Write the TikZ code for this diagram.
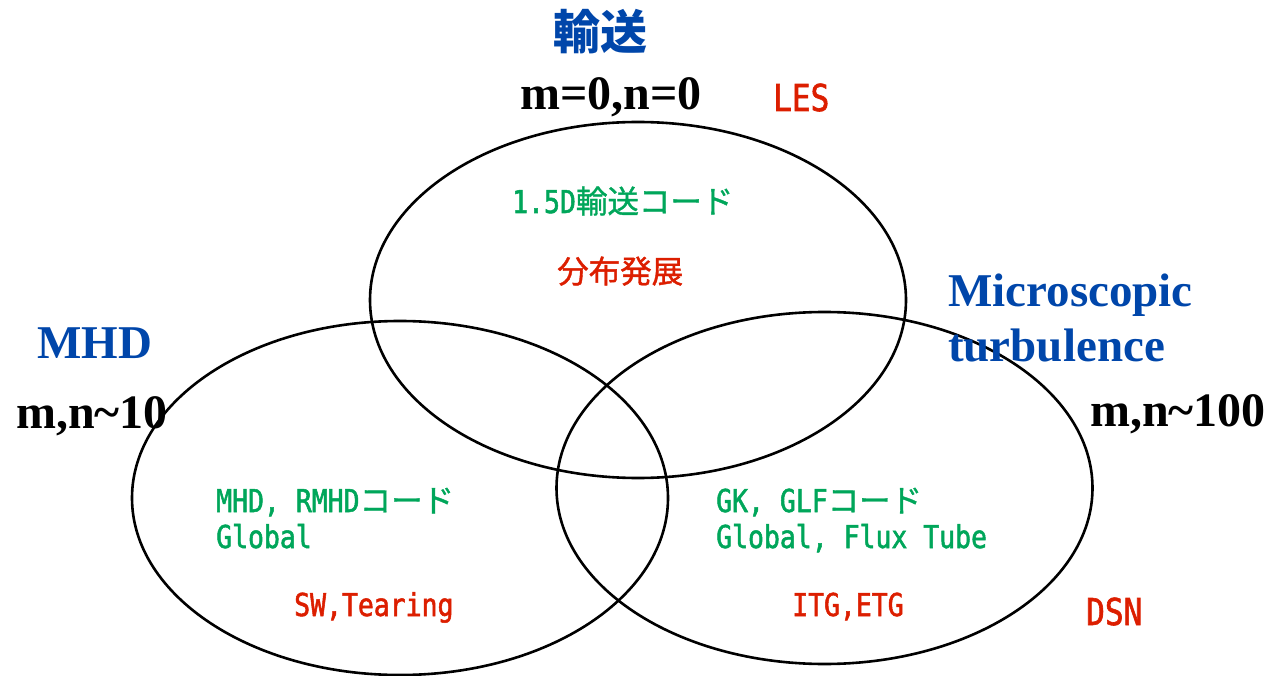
\documentclass[tikz,border=0pt]{standalone}
\usepackage{fontspec}
\setmainfont{Liberation Serif}
\newfontfamily\monof[FakeStretch=0.84,FakeBold=1.6]{DejaVu Sans Mono}
\newfontfamily\cjk[FakeBold=1.2]{Noto Sans CJK JP}
\newfontfamily\cjkt{Noto Sans CJK JP}
\definecolor{tgreen}{RGB}{0,166,90}
\definecolor{tred}{RGB}{220,30,0}
\definecolor{tblue}{RGB}{0,70,170}
\tikzset{
  venn/.style={draw=black, line width=2.6pt},
  title/.style={text=tblue, font=\fontsize{47}{50}\selectfont\bfseries, inner sep=0pt},
  mode/.style={text=black, font=\fontsize{48}{50}\selectfont\bfseries, inner sep=0pt},
  code/.style={text=tgreen, font=\fontsize{31.5}{36}\selectfont\monof, inner sep=0pt, anchor=base west},
  phys/.style={text=tred, font=\fontsize{31.5}{36}\selectfont\monof, inner sep=0pt, anchor=base west},
  tag/.style={text=tred, font=\fontsize{37}{40}\selectfont\monof, inner sep=0pt, anchor=base west},
}
\begin{document}
\begin{tikzpicture}[x=1pt,y=-1pt]
\useasboundingbox (0,0) rectangle (1272,676);
% ellipses
\draw[venn] (638,300) ellipse [x radius=268pt, y radius=178pt];
\draw[venn] (400,498) ellipse [x radius=268pt, y radius=177pt];
\draw[venn] (824.5,488) ellipse [x radius=268pt, y radius=176pt];
% titles
\node[title, anchor=base] (yuso) at (600,50) {\cjkt\bfseries 輸送};
\node[mode, anchor=base] (m0) at (611,110) {m=0,n=0};
\node[tag] (les) at (773,111) {LES};
\node[title, anchor=base west] (mhd) at (37,359) {MHD};
\node[mode, anchor=base west] (m10) at (16,428) {m,n\char`\~10};
\node[title, anchor=base west, align=left] (micro1) at (948,307) {Microscopic};
\node[title, anchor=base west, align=left] (micro2) at (948,362) {turbulence};
\node[mode, anchor=base east] (m100) at (1266,426) {m,n\char`\~100};
% inner texts
\node[code] (c1) at (512,213) {1.5D{\cjk 輸送コード}};
\node[phys] (p1) at (557,283) {\cjk 分布発展};
\node[code] (c2a) at (216,512) {MHD, RMHD{\cjk コード}};
\node[code] (c2b) at (216,548) {Global};
\node[phys] (p2) at (294,616) {SW,Tearing};
\node[code] (c3a) at (716,512) {GK, GLF{\cjk コード}};
\node[code] (c3b) at (716,548) {Global, Flux Tube};
\node[phys] (p3) at (792,616) {ITG,ETG};
\node[tag] (dsn) at (1086,625) {DSN};
\end{tikzpicture}
\end{document}
